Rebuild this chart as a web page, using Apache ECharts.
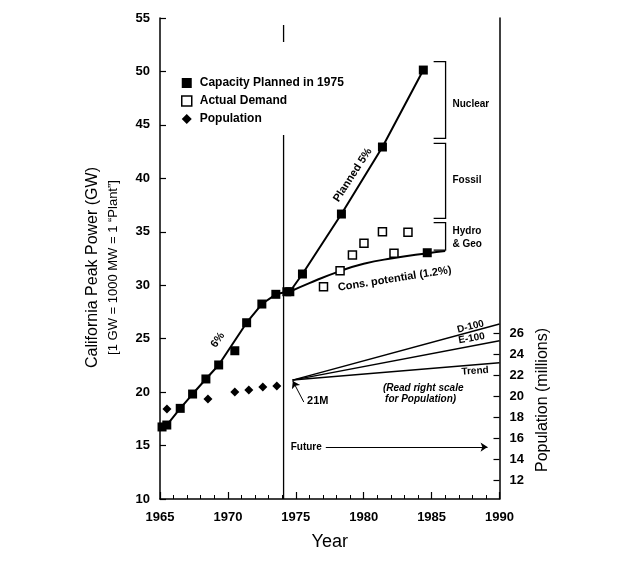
<!DOCTYPE html>
<html><head><meta charset="utf-8">
<script src="https://cdn.jsdelivr.net/npm/echarts@6/dist/echarts.min.js"></script>
<style>html,body{margin:0;padding:0;background:#fff}#c{width:631px;height:570px}</style>
</head><body><div id="c"></div>
<script>
// ---- data ----
const plannedYear = [1965.15,1965.5,1966.49,1967.4,1968.38,1969.32,1971.38,1972.5,1973.53,1974.34,1974.56,1975.49,1978.36,1981.38,1984.39];
const plannedGW   = [16.74,16.92,18.48,19.82,21.23,22.54,26.49,28.24,29.15,29.39,29.39,31.05,36.66,42.93,50.13];
const extraPlannedYear = [1970.51,1984.68];
const extraPlannedGW   = [23.87,33.04];
const demandYear = [1977.04,1978.26,1979.17,1980.02,1981.38,1982.23,1983.26];
const demandGW   = [29.86,31.36,32.83,33.92,35.0,32.98,34.95];
const popYear     = [1965.51,1968.53,1970.51,1971.54,1972.57,1973.6];
const popMillions = [18.76,19.71,20.38,20.57,20.86,20.95];
const consYear = [1974.5,1976,1978.2,1980,1982,1984.7,1986];
const consGW   = [29.36,30.2,31.3,32.0,32.5,33.0,33.2];
const projStart = [1974.76,21.52];
const projNames = ['D-100','E-100','Trend'];
const projEndYear = 1990;
const projEnd = [26.86,25.27,23.17];
const popTicks = [12,14,16,18,20,22,24,26];
const bracketNames = ['Nuclear','Fossil','Hydro\n& Geo'];
const bracketTop    = [50.91,43.27,35.85];
const bracketBottom = [43.74,36.26,33.29];
const bracketX = [1985.15,1986.03];
const markerYear = 1974.1;
const markerSegments = [[10,44.05],[52.75,54.34]];
const arrow21M = [[1975.59,19.07],[1974.78,21.04]];
const arrowFuture = [[1977.21,14.86],[1989.12,14.86]];
// annotation texts: [text, x, y, rotate, size, italic, align]
const notes = [
  ['6%',1969.26,24.87,55,11,false,'center'],
  ['Planned 5%',1979.19,40.31,57,11,false,'center'],
  ['Cons. potential (1.2%)',1982.28,30.6,9,11,false,'center'],
  ['D-100',1987.87,26.12,14,10,false,'center'],
  ['E-100',1987.95,25.03,10,10,false,'center'],
  ['Trend',1988.2,21.97,4,10,false,'center'],
  ['(Read right scale',1984.38,20.38,0,10,true,'center'],
  ['for Population)',1984.19,19.35,0,10,true,'center'],
  ['21M',1976.62,19.17,0,11,false,'center'],
  ['Future',1975.77,14.86,0,10,false,'center'],
  [bracketNames[0],1986.54,46.95,0,10,false,'left'],
  [bracketNames[1],1986.54,39.84,0,10,false,'left'],
  [bracketNames[2],1986.54,34.46,0,10,false,'left']
];

const F = '"Liberation Sans", Arial, Helvetica, sans-serif';
const pair = (xs, ys) => xs.map((x, i) => [x, ys[i]]);
const black = '#000';

const brackets = bracketTop.map((t, i) => ({coords: [[bracketX[0], t],[bracketX[1], t],[bracketX[1], bracketBottom[i]],[bracketX[0], bracketBottom[i]]]}));
const vSegs = markerSegments.map(s => ({coords: [[markerYear, s[0]],[markerYear, s[1]]]}));

const chart = echarts.init(document.getElementById('c'));
chart.setOption({
  animation: false,
  backgroundColor: '#fff',
  grid: {left: 160, right: 131.5, top: 18, bottom: 71, containLabel: false, outerBoundsMode: 'none'},
  legend: {
    orient: 'vertical', left: 181, top: 77, padding: 0, itemWidth: 10, itemHeight: 10, itemGap: 6,
    selectedMode: false,
    textStyle: {fontFamily: F, fontSize: 12, fontWeight: 'bold', color: black, padding: [0,0,0,3]},
    data: [
      {name: 'Capacity Planned in 1975', icon: 'rect', itemStyle: {color: black, borderWidth: 0, opacity: 1}},
      {name: 'Actual Demand', icon: 'rect', itemStyle: {color: '#fff', borderColor: black, borderWidth: 1.5, opacity: 1}},
      {name: 'Population', icon: 'diamond', itemStyle: {color: black, borderWidth: 0, opacity: 1}}
    ]
  },
  xAxis: {
    type: 'value', min: 1965, max: 1990, interval: 5,
    axisLine: {lineStyle: {color: black, width: 1.5}},
    axisTick: {inside: true, length: 7, lineStyle: {color: black, width: 1.2}},
    minorTick: {show: true, splitNumber: 5, length: 4, lineStyle: {color: black, width: 1}},
    splitLine: {show: false}, minorSplitLine: {show: false},
    axisLabel: {margin: 12, fontFamily: F, fontSize: 13, fontWeight: 'bold', color: black, formatter: v => String(v)},
    name: 'Year', nameLocation: 'middle', nameGap: 34,
    nameTextStyle: {fontFamily: F, fontSize: 18, color: black}
  },
  yAxis: [
    {
      type: 'value', min: 10, max: 55, interval: 5, position: 'left',
      axisLine: {show: true, lineStyle: {color: black, width: 1.5}},
      axisTick: {show: true, inside: true, length: 6, lineStyle: {color: black, width: 1.2}},
      splitLine: {show: false},
      axisLabel: {margin: 10, fontFamily: F, fontSize: 13, fontWeight: 'bold', color: black},
      name: '{a|California Peak Power (GW)}\n{b|[1 GW = 1000 MW = 1 \u201cPlant\u201d]}',
      nameLocation: 'middle', nameRotate: 90, nameGap: 37,
      nameTextStyle: {color: black, padding: [0, 18, 0, 0], rich: {
        a: {fontFamily: F, fontSize: 16, lineHeight: 20, color: black},
        b: {fontFamily: F, fontSize: 13, lineHeight: 20, color: black}
      }}
    },
    {
      type: 'value', min: 10.2, max: 56, position: 'right',
      axisLine: {show: true, lineStyle: {color: black, width: 1.5}},
      axisTick: {show: true, inside: true, length: 6, customValues: popTicks, lineStyle: {color: black, width: 1.2}},
      splitLine: {show: false},
      axisLabel: {margin: 10, customValues: popTicks, fontFamily: F, fontSize: 13, fontWeight: 'bold', color: black}
    }
  ],
  graphic: [{
    type: 'text', x: 543, y: 400, rotation: Math.PI / 2,
    style: {text: 'Population (millions)', font: '16px ' + F, fill: black, align: 'center', verticalAlign: 'middle'}
  }],
  series: [
    {name: 'Capacity Planned in 1975', type: 'line', data: pair(plannedYear, plannedGW),
     symbol: 'rect', symbolSize: 9, showAllSymbol: true, itemStyle: {color: black, opacity: 1}, lineStyle: {color: black, width: 2}, z: 5},
    {name: 'Capacity Planned in 1975', type: 'scatter', data: pair(extraPlannedYear, extraPlannedGW),
     symbol: 'rect', symbolSize: 9, itemStyle: {color: black, opacity: 1}, z: 5},
    {name: 'Conservation potential', type: 'line', data: pair(consYear, consGW), smooth: true,
     symbol: 'none', lineStyle: {color: black, width: 2}, z: 4},
    {name: 'Actual Demand', type: 'scatter', data: pair(demandYear, demandGW),
     symbol: 'rect', symbolSize: 8, itemStyle: {color: '#fff', borderColor: black, borderWidth: 1.5, opacity: 1}, z: 6},
    {name: 'Population', type: 'scatter', yAxisIndex: 1, data: pair(popYear, popMillions),
     symbol: 'diamond', symbolSize: 9, itemStyle: {color: black, opacity: 1}, z: 5},
    ...projNames.map((n, i) => ({name: n, type: 'line', yAxisIndex: 1,
      data: [projStart, [projEndYear, projEnd[i]]], symbol: 'none', lineStyle: {color: black, width: 1.5}})),
    {name: 'brackets', type: 'lines', coordinateSystem: 'cartesian2d', polyline: true,
     data: brackets.concat(vSegs), symbol: 'none', lineStyle: {color: black, width: 1.3, opacity: 1}},
    {name: 'arrows', type: 'lines', coordinateSystem: 'cartesian2d',
     data: [{coords: arrow21M}, {coords: arrowFuture}], symbol: ['none', 'arrow'], symbolSize: 7,
     lineStyle: {color: black, width: 1, opacity: 1}},
    {name: 'notes', type: 'scatter', symbolSize: 1, itemStyle: {color: 'rgba(0,0,0,0)', opacity: 1}, z: 7,
     label: {show: true, position: 'inside', color: black, fontFamily: F, fontWeight: 'bold', opacity: 1},
     data: notes.map(n => ({value: [n[1], n[2]], label: {formatter: n[0], rotate: n[3], fontSize: n[4],
       fontStyle: n[5] ? 'italic' : 'normal', align: n[6], lineHeight: 13}}))}
  ]
});
</script></body></html>
